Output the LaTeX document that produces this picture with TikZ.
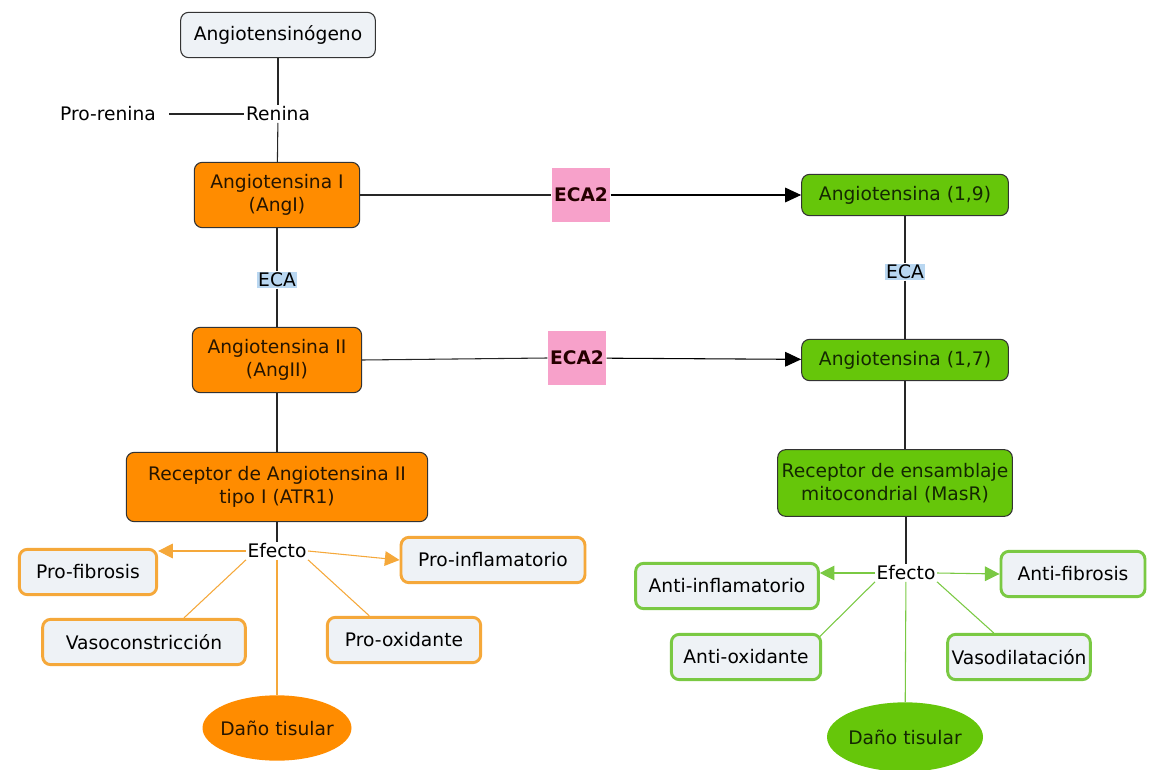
\documentclass[tikz,border=0pt]{standalone}
\usepackage{fontspec}
\setmainfont{DejaVu Sans}
\usepackage{xcolor}
\usetikzlibrary{
    shapes.geometric,
    arrows.meta,
    positioning,
    calc
}

\definecolor{angorange}{HTML}{FF8C00}
\definecolor{anggreen}{HTML}{66C60A}
\definecolor{effbox}{HTML}{EEF2F6}
\definecolor{effline}{HTML}{F5A83A}
\definecolor{effgreen}{HTML}{7AC943}
\definecolor{ecapink}{HTML}{F7A1CA}
\definecolor{ecablue}{HTML}{B9D7F1}

\begin{document}
\begin{tikzpicture}[
    x=0.75pt, y=-0.75pt,
    font=\fontsize{14}{17.5}\selectfont,
    box/.style={
        rectangle,
        rounded corners=6pt,
        align=center,
        draw=black!80,
        thick,
        inner sep=2pt
    },
    start/.style={box, fill=effbox, minimum width=146pt, minimum height=34pt},
    orangebox/.style={box, fill=angorange, text=black!85!angorange},
    greenbox/.style={box, fill=anggreen, text=black!80!anggreen},
    effectO/.style={box, draw=effline, line width=2.2pt, fill=effbox,
        minimum height=34pt},
    effectG/.style={box, draw=effgreen, line width=2.2pt, fill=effbox,
        minimum height=34pt},
    enzyme/.style={rectangle, fill=ecapink, font=\fontsize{14}{17.5}\selectfont\bfseries,
        text=black!85!red, minimum width=44pt, minimum height=40pt, inner sep=0pt},
    ecalabel/.style={rectangle, fill=ecablue, inner sep=1pt},
    plain/.style={inner sep=1pt},
    damage/.style={ellipse, inner sep=-3pt},
    arrow/.style={-{Triangle[length=12pt, width=11pt]}, thick},
    link/.style={thick, black!85},
    olink/.style={thick, effline},
    glink/.style={thick, effgreen},
    oarrow/.style={olink, -{Triangle[length=11pt, width=11pt]}},
    garrow/.style={glink, -{Triangle[length=11pt, width=11pt]}}
]
\useasboundingbox (0,0) rectangle (1149,770);

% Precursor
\node[start] (ango) at (278,35) {Angiotensinógeno};
\node[plain] (renina) at (278,114) {Renina};
\node[plain] (prorenina) at (108,114) {Pro-renina};

% Left branch
\node[orangebox, minimum width=124pt, minimum height=49pt] (angI) at (277,195) {Angiotensina I\\(AngI)};
\node[ecalabel] (ecaL) at (277,280) {ECA};
\node[orangebox, minimum width=127pt, minimum height=49pt] (angII) at (277,360) {Angiotensina II\\(AngII)};
\node[orangebox, minimum width=226pt, minimum height=52pt] (atr) at (277,487) {Receptor de Angiotensina II\\tipo I (ATR1)};

% ECA2 enzymes
\node[enzyme] (ecaA) at (581,195) {ECA2};
\node[enzyme] (ecaB) at (577,358) {ECA2};

% Right branch
\node[greenbox, minimum width=155pt, minimum height=31pt] (ang19) at (905,195) {Angiotensina (1,9)};
\node[ecalabel] (ecaR) at (905,272) {ECA};
\node[greenbox, minimum width=155pt, minimum height=31pt] (ang17) at (905,360) {Angiotensina (1,7)};
\node[greenbox, minimum width=176pt, minimum height=50pt] (masr) at (895,483) {Receptor de ensamblaje\\mitocondrial (MasR)};

% Effects ATR1
\node[plain] (efectoL) at (277,551) {Efecto};
\node[effectO, minimum width=103pt] (profib) at (88,572) {Pro-fibrosis};
\node[effectO, minimum width=138pt] (proinf) at (493,560) {Pro-inflamatorio};
\node[effectO, minimum width=152pt] (vaso) at (144,642) {Vasoconstricción};
\node[effectO, minimum width=115pt] (proox) at (404,640) {Pro-oxidante};
\node[damage, fill=angorange, text=black!85!angorange, minimum height=49pt] (danoL) at (277,728) {Daño tisular};

% Effects MasR
\node[plain] (efectoR) at (906,573) {Efecto};
\node[effectG, minimum width=137pt] (antiinf) at (727,586) {Anti-inflamatorio};
\node[effectG, minimum width=108pt] (antifib) at (1073,574) {Anti-fibrosis};
\node[effectG, minimum width=112pt] (antiox) at (746,657) {Anti-oxidante};
\node[effectG, minimum width=107pt] (vasod) at (1019,657) {Vasodilatación};
\node[damage, fill=anggreen, text=black!80!anggreen, minimum width=117pt, minimum height=52pt] (danoR) at (905,737) {Daño tisular};

% Connectors - main pathway
\draw[link] (ango) -- (renina);
\draw[link] (renina) -- (angI);
\draw[link] ($(prorenina.east)+(9pt,0)$) -- (renina);
\draw[link] (angI) -- (ecaL);
\draw[link] (ecaL) -- (angII);
\draw[link] (angII) -- (atr);

% Connectors - ECA2
\draw[link] (angI) -- (ecaA);
\draw[arrow] (ecaA) -- (ang19);
\draw[link] (angII.east) -- (ecaB.west);
\draw[arrow] (ecaB) -- (ang17);

% Connectors - right pathway
\draw[link] (ang19) -- (ecaR);
\draw[link] (ecaR) -- (ang17);
\draw[link] (ang17) -- (ang17 |- masr.north);

% Effects left
\draw[link] (atr) -- (efectoL);
\draw[oarrow] (efectoL.west) -- (profib.north east |- efectoL.west);
\draw[oarrow] (efectoL.east) -- (proinf.west);
\draw[olink] (efectoL.south west) -- ($(vaso.north)+(30pt,0)$);
\draw[olink] (efectoL.south east) -- ($(proox.north)+(-26pt,0)$);
\draw[olink] (efectoL) -- (danoL);

% Effects right
\draw[link] (efectoR |- masr.south) -- (efectoR);
\draw[garrow] (efectoR.west) -- (antiinf.east |- efectoR.west);
\draw[garrow] (efectoR.east) -- (antifib.west);
\draw[glink] (efectoR.south west) -- ($(antiox.north east)+(-2pt,-3pt)$);
\draw[glink] (efectoR.south east) -- ($(vasod.north)+(-19pt,0)$);
\draw[glink] (efectoR) -- (danoR);

\end{tikzpicture}
\end{document}
